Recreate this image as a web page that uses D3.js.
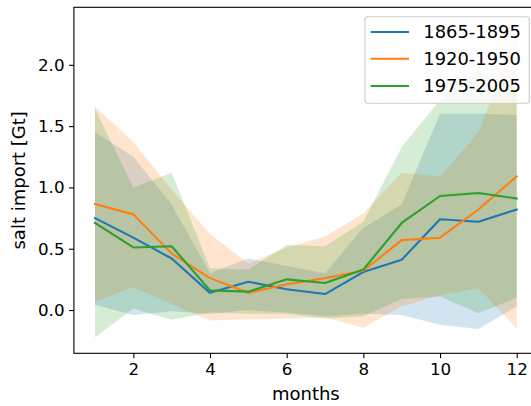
<!DOCTYPE html>
<html>
<head>
<meta charset="utf-8">
<script src="https://cdn.jsdelivr.net/npm/d3@7"></script>
<style>
html, body { margin: 0; padding: 0; background: #fff; }
svg { display: block; font-family: "DejaVu Sans", sans-serif; }
</style>
</head>
<body>
<svg id="chart" width="531" height="406"></svg>
<script>
const months = [1, 2, 3, 4, 5, 6, 7, 8, 9, 10, 11, 12];
const seriesNames = ["1865-1895", "1920-1950", "1975-2005"];
const seriesColors = ["#1f77b4", "#ff7f0e", "#2ca02c"];

const blueMean   = [0.75, 0.59, 0.42, 0.14, 0.23, 0.17, 0.13, 0.31, 0.41, 0.74, 0.72, 0.82];
const orangeMean = [0.865, 0.78, 0.46, 0.26, 0.14, 0.21, 0.26, 0.32, 0.57, 0.59, 0.82, 1.09];
const greenMean  = [0.71, 0.51, 0.52, 0.16, 0.15, 0.25, 0.22, 0.33, 0.71, 0.93, 0.955, 0.91];

const blueUpper   = [1.45, 1.25, 0.86, 0.30, 0.42, 0.36, 0.30, 0.67, 0.86, 1.60, 1.60, 1.59];
const blueLower   = [0.04, -0.04, -0.01, -0.03, 0.0, -0.02, -0.05, -0.03, -0.04, -0.12, -0.155, 0.03];
const orangeUpper = [1.66, 1.37, 0.98, 0.62, 0.38, 0.51, 0.60, 0.79, 1.12, 1.09, 1.45, 2.25];
const orangeLower = [0.07, 0.185, 0.05, -0.085, -0.076, -0.07, -0.06, -0.144, 0.03, 0.12, 0.177, -0.15];
const greenUpper  = [1.64, 1.00, 1.12, 0.34, 0.33, 0.53, 0.52, 0.72, 1.33, 1.71, 1.96, 1.80];
const greenLower  = [-0.223, 0.013, -0.08, -0.02, -0.03, -0.03, -0.07, -0.05, 0.09, 0.11, -0.027, 0.10];

const xTicks = [2, 4, 6, 8, 10, 12];
const yTicks = [0.0, 0.5, 1.0, 1.5, 2.0];

const means = [blueMean, orangeMean, greenMean];
const uppers = [blueUpper, orangeUpper, greenUpper];
const lowers = [blueLower, orangeLower, greenLower];

const svg = d3.select("#chart");
const pLeft = 73.9, pRight = 537.8, pTop = 7.3, pBottom = 353.3;

const x = d3.scaleLinear().domain([0.45, 12.55]).range([pLeft, pRight]);
const y = d3.scaleLinear().domain([-0.353, 2.469]).range([pBottom, pTop]);

const g = svg.append("g");

// bands
seriesNames.forEach((name, i) => {
  const data = months.map((m, j) => ({ m, lo: lowers[i][j], hi: uppers[i][j] }));
  g.append("path")
    .datum(data)
    .attr("fill", seriesColors[i])
    .attr("fill-opacity", 0.2)
    .attr("stroke", "none")
    .attr("d", d3.area().x(d => x(d.m)).y0(d => y(d.lo)).y1(d => y(d.hi)));
});

// lines
seriesNames.forEach((name, i) => {
  const data = months.map((m, j) => ({ m, v: means[i][j] }));
  g.append("path")
    .datum(data)
    .attr("fill", "none")
    .attr("stroke", seriesColors[i])
    .attr("stroke-width", 2.1)
    .attr("stroke-linejoin", "round")
    .attr("stroke-linecap", "square")
    .attr("d", d3.line().x(d => x(d.m)).y(d => y(d.v)));
});

// axes
const xAxis = d3.axisBottom(x).tickValues(xTicks).tickSize(4.9).tickPadding(4.5).tickFormat(d3.format("d"));
const yAxis = d3.axisLeft(y).tickValues(yTicks).tickSize(4.9).tickPadding(4.5).tickFormat(d3.format(".1f"));

const gx = svg.append("g").attr("transform", `translate(0,${pBottom})`).call(xAxis);
const gy = svg.append("g").attr("transform", `translate(${pLeft},0)`).call(yAxis);
[gx, gy].forEach(a => {
  a.select(".domain").remove();
  a.selectAll(".tick line").attr("stroke", "#000").attr("stroke-width", 1.1);
  a.selectAll(".tick text").attr("fill", "#000").style("font-size", "16.7px").style("font-family", "DejaVu Sans");
});

// spines
svg.append("rect")
  .attr("x", pLeft).attr("y", pTop)
  .attr("width", pRight - pLeft).attr("height", pBottom - pTop)
  .attr("fill", "none").attr("stroke", "#000").attr("stroke-width", 1.1);

// axis labels
svg.append("text")
  .attr("x", (pLeft + pRight) / 2).attr("y", 400)
  .attr("text-anchor", "middle")
  .style("font-size", "18px")
  .text("months");

svg.append("text")
  .attr("transform", `translate(25,${(pTop + pBottom) / 2}) rotate(-90)`)
  .attr("text-anchor", "middle")
  .style("font-size", "18px")
  .text("salt import [Gt]");

// legend
const lg = svg.append("g");
lg.append("rect")
  .attr("x", 365).attr("y", 16.7).attr("width", 164.3).attr("height", 86.6)
  .attr("rx", 3).attr("ry", 3)
  .attr("fill", "#fff").attr("fill-opacity", 0.8)
  .attr("stroke", "#cccccc").attr("stroke-width", 1.1);
const rowY = [32, 58.8, 86];
seriesNames.forEach((name, i) => {
  lg.append("line")
    .attr("x1", 370.7).attr("x2", 409)
    .attr("y1", rowY[i]).attr("y2", rowY[i])
    .attr("stroke", seriesColors[i]).attr("stroke-width", 2.1);
  lg.append("text")
    .attr("x", 423.3).attr("y", rowY[i])
    .attr("dy", "0.36em")
    .style("font-size", "17.9px")
    .text(name);
});
</script>
</body>
</html>
